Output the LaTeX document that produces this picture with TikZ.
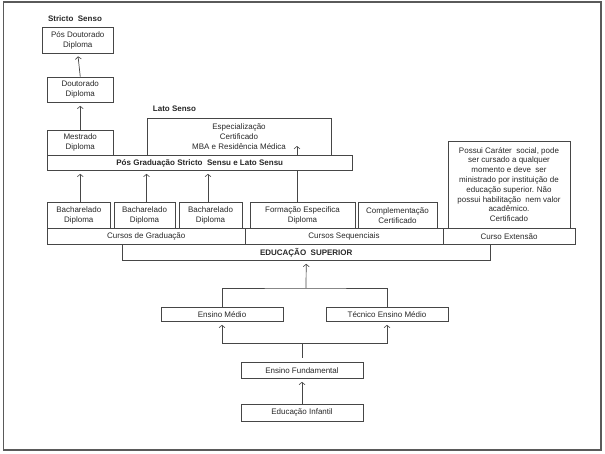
\documentclass[tikz,border=0pt]{standalone}
\usepackage{fontspec}
\setmainfont{Liberation Sans}
\usetikzlibrary{arrows.meta,calc}
\definecolor{lc}{RGB}{70,70,70}
\definecolor{fc}{RGB}{90,90,90}
\definecolor{tc}{RGB}{40,40,40}
\tikzset{
  bx/.style={draw=lc,line width=0.7pt,inner sep=0pt,align=center,text=tc,
    font=\fontsize{8}{10}\selectfont},
  lbl/.style={inner sep=0pt,text=tc,font=\fontsize{8}{10}\selectfont\bfseries},
  arr/.style={draw=lc,line width=0.7pt,-{Straight Barb[length=2.5pt,width=6pt,line width=0.6pt]},shorten >=3pt},
  ln/.style={draw=lc,line width=0.7pt},
}
% box from x1,y1 to x2,y2 (pixel coords, y downward)
\newcommand{\bbox}[6]{%
  \node[bx,#6,minimum width={#3-#2},minimum height={#5-#4}] (#1) at ({(#2+#3)/2},{(#4+#5)/2})}
\begin{document}
\begin{tikzpicture}[x=1pt,y=-1pt]
\useasboundingbox (0,0) rectangle (605,453);
\draw[fc,line width=1.5pt] (3.5,2) rectangle (601,450);

\node[lbl] (stricto) at (75,19) {Stricto\ \ Senso};
\node[lbl] (lato) at (174.5,109) {Lato Senso};

\bbox{pd}{42.5}{113}{27}{53}{} {Pós Doutorado\\Diploma};
\bbox{dout}{47.5}{113}{77}{102.5}{} {Doutorado\\Diploma};
\bbox{mest}{47.5}{113}{130}{155.5}{} {Mestrado\\Diploma};
\bbox{esp}{147}{331}{118}{155.5}{} {Especialização\\Certificado\\MBA e Residência\ Médica};
\bbox{pos}{47.5}{352}{155.5}{170.5}{fill=white,font=\fontsize{8}{10}\selectfont\bfseries} {Pós Graduação Stricto\ \ Sensu e Lato Sensu};

\bbox{b1}{47.5}{110}{202.5}{228}{} {Bacharelado\\Diploma};
\bbox{b2}{114}{175}{202.5}{228}{} {Bacharelado\\Diploma};
\bbox{b3}{179}{242}{202.5}{228}{} {Bacharelado\\Diploma};
\bbox{form}{250}{355}{202.5}{228}{} {Formação Especifica\\Diploma};
\bbox{comp}{358}{437}{202.5}{228}{} {Complementação\\Certificado};
\bbox{poss}{448}{570}{141}{228}{font=\fontsize{8}{9.8}\selectfont} {Possui Caráter\ \ social, pode\\ser cursado a qualquer\\momento e deve\ \ ser\\ministrado por instituição de\\educação superior. Não\\possui habilitação\ \ nem valor\\acadêmico.\\Certificado};

\bbox{grad}{47.5}{245}{228}{244.5}{} {Cursos de Graduação};
\bbox{seq}{245}{443}{228}{244.5}{} {Cursos Sequenciais};
\bbox{ext}{443}{575}{228}{244.5}{} {Curso Extensão};
\bbox{edu}{122.5}{490}{244.5}{260.5}{font=\fontsize{8}{10}\selectfont\bfseries} {EDUCAÇÃO\ \ SUPERIOR};

\bbox{em}{161}{283}{307}{321.5}{} {Ensino Médio};
\bbox{tem}{326}{448}{307}{321.5}{} {Técnico\ Ensino Médio};
\bbox{ef}{241}{363}{362}{378.5}{} {Ensino Fundamental};
\bbox{ei}{241}{363}{404}{421}{} {Educação Infantil};

% connectors
\draw[arr] (dout.north) -- (pd.south);
\draw[arr] (mest.north) -- (dout.south);
\draw[arr] ([xshift=1.5pt]b1.north) -- ([xshift=1.5pt]b1.north |- pos.south);
\draw[arr] ([xshift=2pt]b2.north) -- ([xshift=2pt]b2.north |- pos.south);
\draw[arr] ([xshift=-2.5pt]b3.north) -- ([xshift=-2.5pt]b3.north |- pos.south);
\coordinate (fx) at (297,143);
\draw[ln] (form.north -| fx) -- (pos.south -| fx);
\draw[arr] (pos.north -| fx) -- (fx);

\coordinate (jt) at (306,288);
\draw[ln] (em.north) |- (jt) -| (tem.north);
\draw[arr] (jt) -- (edu.south);

\coordinate (jb) at (302,343);
\draw[ln,shorten <=4pt] (ef.north) -- (jb);
\draw[arr] (jb) -| (em.south);
\draw[arr] (jb) -| (tem.south);
\draw[arr] (ei.north) -- (ef.south);
\end{tikzpicture}
\end{document}
